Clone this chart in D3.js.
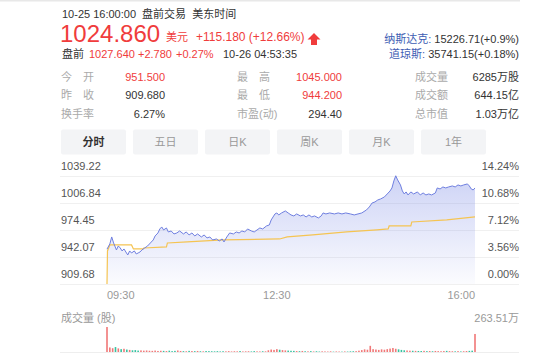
<!DOCTYPE html>
<html>
<head>
<meta charset="utf-8">
<script src="https://cdn.jsdelivr.net/npm/d3@7"></script>
<style>
  body { margin: 0; background: #fff; }
  svg { display: block; font-family: Arial, "Liberation Sans", "Noto Sans CJK SC", sans-serif; }
</style>
</head>
<body>
<div id="chart"></div>
<script>
// quote header
const quoteTime = "10-25 16:00:00  盘前交易  美东时间";
const lastPrice = "1024.860";
const change = "+115.180 (+12.66%)";
const preMarket = ["1027.640", "+2.780", "+0.27%"];
const preTime = "10-26 04:53:35";
const indexNames = ["纳斯达克: ", "道琼斯: "];
const indexValues = ["15226.71(+0.9%)", "35741.15(+0.18%)"];

// stats table, 3 columns
const statLabels = [["今 开", "昨 收", "换手率"], ["最 高", "最 低", "市盈(动)"], ["成交量", "成交额", "总市值"]];
const statValues = [["951.500", "909.680", "6.27%"], ["1045.000", "944.200", "294.40"], ["6285万股", "644.15亿", "1.03万亿"]];
const statRed = [[true, false, false], [true, true, false], [false, false, false]];

const tabs = ["分时", "五日", "日K", "周K", "月K", "1年"];

// chart axes
const prevClose = 909.68;
const yTicks = [1039.22, 1006.84, 974.45, 942.07, 909.68];
const timeTicks = ["09:30", "12:30", "16:00"];
const volMaxLabel = "263.51万";

// intraday price: [minutes after 09:30, price]
const priceData = [
  [0, 951.5], [3, 957.7], [5, 966.1], [7, 958.9], [10, 950.5], [12, 955.3], [14, 952.9], [16, 949.3],
  [18, 951.7], [20, 948.1], [22, 944.5], [24, 949.3], [26, 946.9], [29, 949.3], [31, 945.7], [33, 946.9],
  [35, 948.1], [37, 950.5], [40, 952.9], [43, 955.3], [46, 958.9], [49, 962.5], [51, 967.3], [54, 970.9],
  [56, 975.7], [58, 978.1], [60, 974.5], [63, 976.9], [65, 972.1], [68, 973.3], [71, 969.7], [74, 970.9],
  [77, 973.3], [81, 969.7], [84, 972.1], [87, 968.5], [90, 970.9], [93, 967.3], [96, 969.7], [100, 966.1],
  [103, 968.5], [106, 964.9], [109, 966.1], [112, 962.5], [116, 963.7], [119, 961.3], [122, 963.7], [124, 960.1],
  [127, 966.1], [130, 970.9], [134, 969.7], [137, 972.1], [140, 970.9], [143, 973.3], [146, 972.1], [149, 975.7],
  [153, 973.3], [156, 972.1], [159, 974.5], [162, 976.9], [165, 975.7], [169, 979.3], [172, 980.5], [174, 986.5],
  [176, 990.1], [178, 993.7], [180, 994.9], [182, 992.5], [185, 994.9], [189, 997.3], [192, 994.9], [195, 992.5],
  [198, 991.3], [201, 993.7], [205, 991.3], [208, 992.5], [211, 990.1], [214, 992.5], [217, 990.1], [220, 991.3],
  [224, 988.9], [227, 991.3], [229, 994.9], [232, 993.7], [236, 994.9], [241, 993.7], [245, 994.9], [249, 993.7],
  [253, 994.9], [258, 993.7], [262, 992.5], [266, 993.7], [270, 994.9], [275, 998.5], [278, 1002.1], [281, 1006.9],
  [284, 1008.1], [287, 1010.5], [290, 1011.7], [294, 1014.1], [297, 1017.7], [300, 1021.3], [302, 1024.9], [304, 1033.3],
  [306, 1039.5], [308, 1034.5], [311, 1028.5], [313, 1021.3], [315, 1017.7], [317, 1020.1], [319, 1016.5], [322, 1020.1],
  [325, 1017.7], [329, 1020.1], [332, 1016.5], [335, 1018.9], [338, 1016.5], [341, 1017.7], [344, 1016.5], [348, 1018.9],
  [350, 1024.9], [353, 1023.7], [356, 1026.1], [359, 1024.9], [362, 1026.1], [366, 1027.3], [369, 1026.1], [372, 1028.5],
  [375, 1027.3], [378, 1028.5], [382, 1029.7], [384, 1027.3], [386, 1023.7], [388, 1022.5], [390, 1024.86]
];

// average price line
const avgData = [
  [0, 909.68], [0.5, 949.3], [3, 956.5], [26, 956.5], [28, 951.7], [38, 951.7], [39, 952.9], [63, 954.1],
  [64, 958.9], [85, 960.1], [123, 962.5], [183, 963.7], [191, 966.1], [218, 968.5], [254, 972.1], [286, 974.5],
  [298, 975.7], [299, 979.3], [322, 979.3], [323, 984.1], [360, 986.5], [390, 990.1]
];

// volume (万股) every 3 minutes from 09:30
const volData = [
  263.51, 48, 40, 52, 38, 30, 34, 26, 22,
  18, 20, 15, 17, 14, 16, 13, 12, 15, 11, 13, 12,
  10, 14, 9, 12, 16, 11, 9, 8, 12, 10, 9, 11, 8, 7, 10, 9, 8, 7, 9, 6,
  8, 7, 9, 6, 8, 7, 10, 6, 7, 8, 6, 9, 7, 6, 8, 7,
  18, 26, 22, 30, 24, 20, 17, 15, 13, 12,
  10, 9, 11, 8, 7, 9, 6, 8, 5, 7, 6, 5, 7, 4, 6, 5, 4, 6, 5, 7, 8, 9,
  14, 20, 28, 24, 65, 30, 26, 22, 28, 24, 30, 36, 42, 34, 28, 22, 18,
  16, 14, 13, 12, 11, 10, 12, 9, 10, 8, 11, 9, 8, 10, 12,
  9, 8, 7, 9, 6, 8, 10, 12, 14,
  190
];

const W = 554, H = 364;
const red = "#f03c3c", dark = "#333", gray = "#999", blueText = "#3d5db3";
const lineBlue = "#6f7fe0", avgYellow = "#f5c452", green = "#35c2a0";

const svg = d3.select("#chart").append("svg").attr("width", W).attr("height", H);

svg.append("rect").attr("x", 0).attr("y", 0).attr("width", 520).attr("height", 1.5).attr("fill", "#e8e8e8");

// header
svg.append("text").attr("x", 62).attr("y", 18).attr("font-size", 11).attr("fill", dark)
  .attr("xml:space", "preserve").text(quoteTime);
svg.append("text").attr("x", 60).attr("y", 42).attr("font-size", 24).attr("fill", red).text(lastPrice);
svg.append("text").attr("x", 166).attr("y", 41).attr("font-size", 11).attr("fill", red).text("美元");
svg.append("text").attr("x", 196).attr("y", 41).attr("font-size", 12).attr("fill", red).text(change);
svg.append("path").attr("d", "M314,33 L320.5,39.5 L317,39.5 L317,45 L311,45 L311,39.5 L307.5,39.5 Z").attr("fill", red);

let pre = svg.append("text").attr("y", 58).attr("font-size", 11);
pre.append("tspan").attr("x", 62).attr("fill", dark).text("盘前");
pre.append("tspan").attr("x", 89).attr("fill", red).text(preMarket[0]);
pre.append("tspan").attr("x", 138).attr("fill", red).text(preMarket[1]);
pre.append("tspan").attr("x", 176).attr("fill", red).text(preMarket[2]);
pre.append("tspan").attr("x", 223).attr("fill", dark).text(preTime);

indexNames.forEach((n, i) => {
  let t = svg.append("text").attr("x", 519).attr("y", 43 + i * 15).attr("font-size", 11)
    .attr("text-anchor", "end");
  t.append("tspan").attr("fill", blueText).text(n);
  t.append("tspan").attr("fill", dark).text(indexValues[i]);
});

// stats
const colLabelX = [61, 237, 415], colValueX = [165, 342, 519], rowY = [81, 99, 118];
statLabels.forEach((col, c) => {
  col.forEach((lab, r) => {
    if (lab.includes(" ")) {
      let parts = lab.split(" ");
      svg.append("text").attr("x", colLabelX[c]).attr("y", rowY[r]).attr("font-size", 11).attr("fill", "#aaa").text(parts[0]);
      svg.append("text").attr("x", colLabelX[c] + 22).attr("y", rowY[r]).attr("font-size", 11).attr("fill", "#aaa").text(parts[1]);
    } else {
      svg.append("text").attr("x", colLabelX[c]).attr("y", rowY[r]).attr("font-size", 11).attr("fill", "#aaa").text(lab);
    }
    svg.append("text").attr("x", colValueX[c]).attr("y", rowY[r]).attr("font-size", 11)
      .attr("text-anchor", "end").attr("fill", statRed[c][r] ? red : dark).text(statValues[c][r]);
  });
});

// tabs
const tabG = svg.selectAll("g.tab").data(tabs).enter().append("g").attr("class", "tab")
  .attr("transform", (d, i) => `translate(${61 + i * 72},129.5)`);
tabG.append("rect").attr("width", 65).attr("height", 25).attr("rx", 2).attr("fill", "#f3f4f6");
tabG.append("text").attr("x", 32.5).attr("y", 16.5).attr("text-anchor", "middle").attr("font-size", 11)
  .attr("font-weight", (d, i) => i === 0 ? "bold" : "normal")
  .attr("fill", (d, i) => i === 0 ? dark : gray).text(d => d);

// scales
const x = d3.scaleLinear().domain([0, 390]).range([107, 475]);
const y = d3.scaleLinear().domain([prevClose, 1039.22]).range([284, 176]);
const pct = d3.format(".2%");

// grid + labels
svg.selectAll("line.grid").data(yTicks).enter().append("line")
  .attr("x1", 60).attr("x2", 519).attr("y1", d => y(d) + 0.5).attr("y2", d => y(d) + 0.5)
  .attr("stroke", "#f0f0f0");
svg.selectAll("text.yl").data(yTicks).enter().append("text")
  .attr("x", 61).attr("y", d => y(d) - 6).attr("font-size", 11).attr("fill", "#555").text(d => d.toFixed(2));
svg.selectAll("text.yr").data(yTicks).enter().append("text")
  .attr("x", 519).attr("y", d => y(d) - 6).attr("font-size", 11).attr("fill", "#555")
  .attr("text-anchor", "end").text(d => pct((d - prevClose) / prevClose));

// area gradient
const defs = svg.append("defs");
const grad = defs.append("linearGradient").attr("id", "ag").attr("x1", 0).attr("x2", 0).attr("y1", 0).attr("y2", 1);
grad.append("stop").attr("offset", "0%").attr("stop-color", "#7d8ce6").attr("stop-opacity", 0.38);
grad.append("stop").attr("offset", "100%").attr("stop-color", "#7d8ce6").attr("stop-opacity", 0.03);

svg.append("path").datum(priceData)
  .attr("d", d3.area().x(d => x(d[0])).y0(y(prevClose)).y1(d => y(d[1])))
  .attr("fill", "url(#ag)");
svg.append("path").datum(avgData)
  .attr("d", d3.line().x(d => x(d[0])).y(d => y(d[1])))
  .attr("fill", "none").attr("stroke", avgYellow).attr("stroke-width", 1.2);
svg.append("path").datum(priceData)
  .attr("d", d3.line().x(d => x(d[0])).y(d => y(d[1])))
  .attr("fill", "none").attr("stroke", lineBlue).attr("stroke-width", 1);

// time labels
const toMin = s => { let p = s.split(":"); return (+p[0]) * 60 + (+p[1]) - 570; };
svg.selectAll("text.tl").data(timeTicks).enter().append("text")
  .attr("x", d => x(toMin(d))).attr("y", 299).attr("font-size", 11).attr("fill", gray)
  .attr("text-anchor", (d, i) => i === 0 ? "start" : (i === timeTicks.length - 1 ? "end" : "middle"))
  .text(d => d);

// volume
svg.append("text").attr("x", 61).attr("y", 322).attr("font-size", 11).attr("fill", gray).text("成交量 (股)");
svg.append("text").attr("x", 519).attr("y", 322).attr("font-size", 11).attr("fill", gray)
  .attr("text-anchor", "end").text(volMaxLabel);
const yv = d3.scaleLinear().domain([0, 263.51]).range([352, 327]);
svg.append("line").attr("x1", 60).attr("x2", 519).attr("y1", 352.5).attr("y2", 352.5).attr("stroke", "#eee");

const priceAt = m => {
  let i = d3.bisector(d => d[0]).left(priceData, m);
  if (i <= 0) return priceData[0][1];
  if (i >= priceData.length) return priceData[priceData.length - 1][1];
  let a = priceData[i - 1], b = priceData[i];
  return a[1] + (b[1] - a[1]) * (m - a[0]) / (b[0] - a[0]);
};
svg.selectAll("rect.vol").data(volData).enter().append("rect")
  .attr("x", (d, i) => x(i * 3) - 0.8).attr("width", 1.6)
  .attr("y", d => yv(d)).attr("height", d => yv(0) - yv(d))
  .attr("fill", (d, i) => (i === 0 || priceAt(i * 3) >= priceAt(i * 3 - 3)) ? "#f07878" : green);
</script>
</body>
</html>
